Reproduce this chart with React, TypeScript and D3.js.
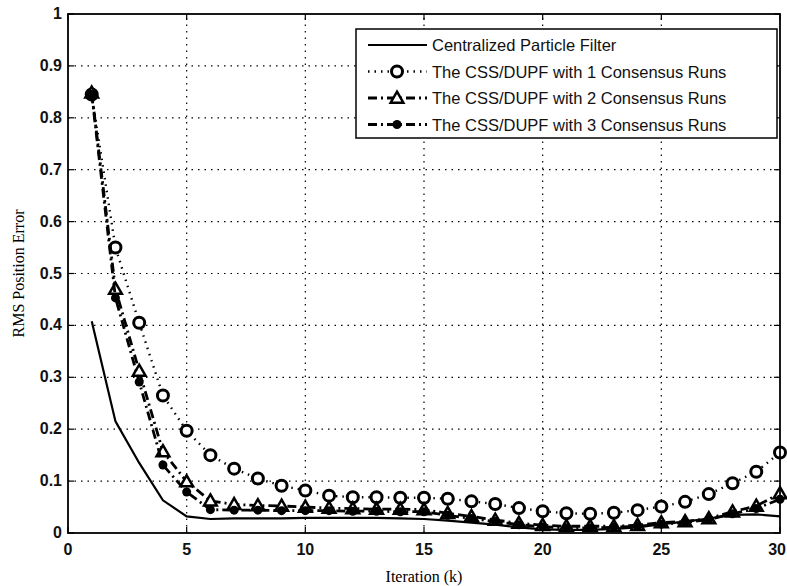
import React from "react";
import * as d3 from "d3";

// values, iteration k = 1..30
const iterations = d3.range(1, 31);
const centralized = [0.408, 0.215, 0.135, 0.063, 0.032, 0.027, 0.028, 0.028, 0.028, 0.029, 0.029, 0.029, 0.029, 0.028, 0.027, 0.024, 0.02, 0.016, 0.011, 0.007, 0.006, 0.006, 0.008, 0.011, 0.017, 0.022, 0.028, 0.035, 0.036, 0.032];
const consensus1 = [0.845, 0.55, 0.405, 0.265, 0.197, 0.15, 0.124, 0.105, 0.091, 0.082, 0.072, 0.069, 0.069, 0.068, 0.068, 0.066, 0.061, 0.056, 0.048, 0.042, 0.038, 0.037, 0.039, 0.044, 0.051, 0.06, 0.075, 0.096, 0.118, 0.155];
const consensus2 = [0.848, 0.47, 0.312, 0.157, 0.099, 0.062, 0.055, 0.053, 0.052, 0.05, 0.048, 0.047, 0.046, 0.046, 0.045, 0.038, 0.032, 0.025, 0.019, 0.015, 0.013, 0.013, 0.013, 0.015, 0.02, 0.022, 0.028, 0.041, 0.052, 0.076];
const consensus3 = [0.845, 0.453, 0.291, 0.131, 0.079, 0.045, 0.044, 0.044, 0.043, 0.043, 0.043, 0.042, 0.042, 0.041, 0.041, 0.034, 0.028, 0.022, 0.016, 0.012, 0.01, 0.01, 0.011, 0.013, 0.017, 0.02, 0.026, 0.037, 0.047, 0.065];
const legendLabels = [
  "Centralized Particle Filter",
  "The CSS/DUPF with 1 Consensus Runs",
  "The CSS/DUPF with 2 Consensus Runs",
  "The CSS/DUPF with 3 Consensus Runs",
];
const xTicks = [0, 5, 10, 15, 20, 25, 30];
const yTicks = [0, 0.1, 0.2, 0.3, 0.4, 0.5, 0.6, 0.7, 0.8, 0.9, 1];

const W = 787, H = 586;
const margin = { top: 14, right: 7, bottom: 53, left: 68 };

const x = d3.scaleLinear().domain([0, 30]).range([margin.left, W - margin.right]);
const y = d3.scaleLinear().domain([0, 1]).range([H - margin.bottom, margin.top]);

type Marker = "none" | "circle" | "triangle" | "dot";
const series: { values: number[]; dash: string; width: number; marker: Marker }[] = [
  { values: centralized, dash: "none", width: 2.2, marker: "none" },
  { values: consensus1, dash: "1.5,5", width: 2.4, marker: "circle" },
  { values: consensus2, dash: "9,4,2,4", width: 2.8, marker: "triangle" },
  { values: consensus3, dash: "9,4,2,4", width: 2.8, marker: "dot" },
];

const tri = d3.symbol(d3.symbolTriangle, 70)();

function MarkerShape({ kind, cx, cy }: { kind: Marker; cx: number; cy: number }) {
  if (kind === "circle")
    return <circle cx={cx} cy={cy} r={5.5} fill="white" stroke="black" strokeWidth={3} />;
  if (kind === "dot")
    return <circle cx={cx} cy={cy} r={4.5} fill="black" />;
  if (kind === "triangle")
    return <path d={tri || ""} transform={`translate(${cx},${cy + 1})`} fill="white" stroke="black" strokeWidth={2.5} />;
  return null;
}

export default function App() {
  const line = d3.line<number>().x((_, i) => x(iterations[i])).y((d) => y(d));
  const [x0, x1] = x.range();
  const [y0, y1] = y.range();
  const lg = { x: 356, y: 29, w: 421, h: 109 };
  return (
    <svg width={W} height={H} style={{ position: "absolute", left: 0, top: 0, background: "white" }}>
      {/* grid */}
      <g stroke="black" strokeWidth={1.2} strokeDasharray="1.5,5">
        {xTicks.slice(1, -1).map((t) => (
          <line key={"gx" + t} x1={x(t)} x2={x(t)} y1={y0} y2={y1} />
        ))}
        {yTicks.slice(1, -1).map((t) => (
          <line key={"gy" + t} x1={x0} x2={x1} y1={y(t)} y2={y(t)} />
        ))}
      </g>
      {/* ticks */}
      <g stroke="black" strokeWidth={1.2}>
        {xTicks.map((t) => (
          <g key={"tx" + t}>
            <line x1={x(t)} x2={x(t)} y1={y0} y2={y0 - 6} />
            <line x1={x(t)} x2={x(t)} y1={y1} y2={y1 + 6} />
          </g>
        ))}
        {yTicks.map((t) => (
          <g key={"ty" + t}>
            <line x1={x0} x2={x0 + 6} y1={y(t)} y2={y(t)} />
            <line x1={x1} x2={x1 - 6} y1={y(t)} y2={y(t)} />
          </g>
        ))}
      </g>
      {/* series */}
      {series.map((s, i) => (
        <g key={"s" + i}>
          <path d={line(s.values) || ""} fill="none" stroke="black" strokeWidth={s.width} strokeDasharray={s.dash} />
          {s.values.map((v, j) => (
            <MarkerShape key={j} kind={s.marker} cx={x(iterations[j])} cy={y(v)} />
          ))}
        </g>
      ))}
      {/* frame */}
      <rect x={x0} y={y1} width={x1 - x0} height={y0 - y1} fill="none" stroke="black" strokeWidth={1.8} />
      {/* tick labels */}
      <g fontFamily="Liberation Sans, Arial, sans-serif" fontSize={16} fontWeight="bold" fill="#111">
        {xTicks.map((t, i) => {
          const last = i === xTicks.length - 1;
          return (
            <text key={"lx" + t} x={last ? W - 1 : x(t)} y={y0 + 22} textAnchor={last ? "end" : "middle"}>{t}</text>
          );
        })}
        {yTicks.map((t) => (
          <text key={"ly" + t} x={x0 - 6} y={y(t) + 5} textAnchor="end">{d3.format("~g")(t)}</text>
        ))}
      </g>
      {/* axis labels */}
      <text x={(x0 + x1) / 2} y={582} textAnchor="middle" fontFamily="Liberation Serif, Times New Roman, serif" fontSize={16}>
        Iteration (k)
      </text>
      <text transform={`translate(24,${(y0 + y1) / 2}) rotate(-90)`} textAnchor="middle" fontFamily="Liberation Serif, Times New Roman, serif" fontSize={16}>
        RMS Position Error
      </text>
      {/* legend */}
      <g>
        <rect x={lg.x} y={lg.y} width={lg.w} height={lg.h} fill="white" stroke="black" strokeWidth={1.5} />
        {series.map((s, i) => {
          const ly = lg.y + 16 + i * 26.5;
          return (
            <g key={"lg" + i}>
              <line x1={lg.x + 12} x2={lg.x + 71} y1={ly} y2={ly} stroke="black" strokeWidth={s.width} strokeDasharray={s.dash === "none" ? undefined : s.dash} />
              <MarkerShape kind={s.marker} cx={lg.x + 41} cy={ly} />
              <text x={lg.x + 76} y={ly + 6} fontFamily="Liberation Sans, Arial, sans-serif" fontSize={16.5} fill="#111">
                {legendLabels[i]}
              </text>
            </g>
          );
        })}
      </g>
    </svg>
  );
}
